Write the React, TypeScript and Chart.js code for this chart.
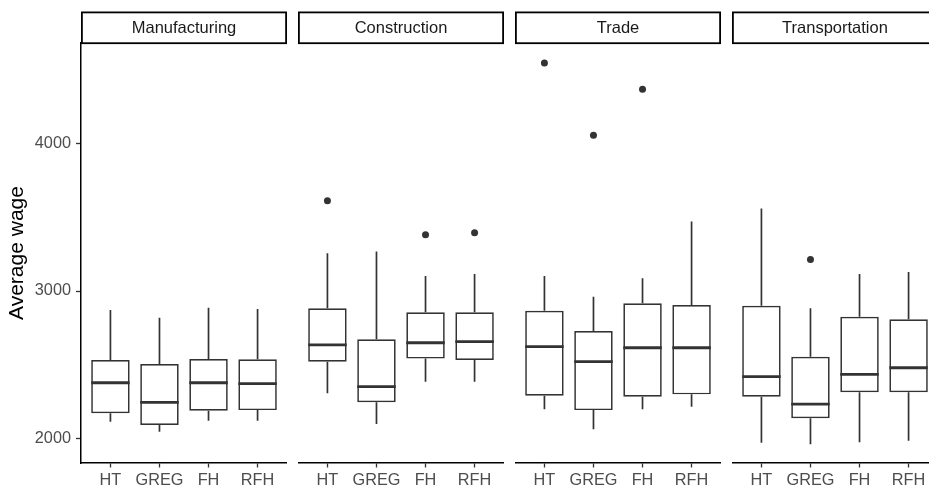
import React, { useEffect, useRef } from 'react';
import { Chart, registerables } from 'chart.js';

Chart.register(...registerables);

const FONT = "'Liberation Sans', Arial, Helvetica, sans-serif";

const sectors = ['Manufacturing', 'Construction', 'Trade', 'Transportation'];
const methods = ['HT', 'GREG', 'FH', 'RFH'];
const yTicks = [2000, 3000, 4000];

// per sector (row) and method (column)
const lowerWhisker = [
  [2111, 2043, 2118, 2118],
  [2304, 2095, 2383, 2383],
  [2195, 2059, 2195, 2213],
  [1968, 1957, 1971, 1982],
];
const lowerHinge = [
  [2168, 2088, 2186, 2190],
  [2519, 2243, 2540, 2531],
  [2288, 2190, 2281, 2297],
  [2281, 2134, 2311, 2311],
];
const medians = [
  [2376, 2243, 2376, 2370],
  [2633, 2349, 2648, 2655],
  [2621, 2519, 2614, 2614],
  [2417, 2231, 2433, 2478],
];
const upperHinge = [
  [2531, 2503, 2537, 2535],
  [2882, 2671, 2855, 2855],
  [2866, 2728, 2916, 2905],
  [2900, 2553, 2825, 2807],
];
const upperWhisker = [
  [2871, 2818, 2886, 2878],
  [3256, 3268, 3102, 3116],
  [3102, 2961, 3086, 3472],
  [3562, 2882, 3116, 3129],
];
// [method index, value]
const outliers: number[][][] = [
  [],
  [[0, 3614], [2, 3383], [3, 3397]],
  [[0, 4551], [1, 4059], [2, 4372]],
  [[1, 3215]],
];

const Y_MIN = 1830;
const Y_MAX = 4687;
const PANEL_LEFT = 81;
const PANEL_STEP = 217;
const PANEL_W = 206;
const TOP = 43;
const H = 487;
const X_AXIS_H = 24;
const LINE_W = 1.7;

function boxPlugin(i: number) {
  return {
    id: 'boxParts' + i,
    beforeDatasetsDraw(chart: any) {
      const { ctx, scales } = chart;
      const x = scales.x;
      const y = scales.y;
      ctx.save();
      ctx.strokeStyle = '#333333';
      ctx.lineWidth = LINE_W;
      methods.forEach((_, j) => {
        const px = x.getPixelForValue(j + 1);
        ctx.beginPath();
        ctx.moveTo(px, y.getPixelForValue(upperWhisker[i][j]));
        ctx.lineTo(px, y.getPixelForValue(upperHinge[i][j]));
        ctx.moveTo(px, y.getPixelForValue(lowerHinge[i][j]));
        ctx.lineTo(px, y.getPixelForValue(lowerWhisker[i][j]));
        ctx.stroke();
      });
      ctx.restore();
    },
    afterDatasetsDraw(chart: any) {
      const { ctx, scales } = chart;
      const y = scales.y;
      const meta = chart.getDatasetMeta(0);
      ctx.save();
      ctx.strokeStyle = '#333333';
      ctx.lineWidth = 2.8;
      methods.forEach((_, j) => {
        const el = meta.data[j];
        const py = y.getPixelForValue(medians[i][j]);
        ctx.beginPath();
        ctx.moveTo(el.x - el.width / 2, py);
        ctx.lineTo(el.x + el.width / 2, py);
        ctx.stroke();
      });
      ctx.restore();
    },
    afterDraw(chart: any) {
      const { ctx, chartArea } = chart;
      const left = chartArea.left;
      const w = chartArea.right - chartArea.left;
      ctx.save();
      ctx.fillStyle = '#ffffff';
      ctx.fillRect(left, 12, w, 31.5);
      ctx.strokeStyle = '#000000';
      ctx.lineWidth = 1.8;
      ctx.strokeRect(left + 0.9, 12.4, w - 1.8, 30.8);
      ctx.fillStyle = '#1a1a1a';
      ctx.font = `16.5px ${FONT}`;
      ctx.textAlign = 'center';
      ctx.textBaseline = 'middle';
      ctx.fillText(sectors[i], left + w / 2, 28.3);
      ctx.restore();
    },
  };
}

function Panel({ index }: { index: number }) {
  const ref = useRef<HTMLCanvasElement | null>(null);
  const first = index === 0;
  const left = first ? 0 : PANEL_LEFT + PANEL_STEP * index;
  const width = first ? PANEL_LEFT + PANEL_W : PANEL_W;

  useEffect(() => {
    if (!ref.current) return;
    const chart = new Chart(ref.current, {
      type: 'bar',
      data: {
        datasets: [
          {
            type: 'bar',
            data: methods.map((_, j) => ({ x: j + 1, y: [lowerHinge[index][j], upperHinge[index][j]] })) as any,
            backgroundColor: '#ffffff',
            borderColor: '#333333',
            borderWidth: LINE_W,
            borderSkipped: false,
            barThickness: 38.5,
            inflateAmount: 0,
          } as any,
          {
            type: 'scatter',
            data: outliers[index].map(([j, v]) => ({ x: j + 1, y: v })),
            pointRadius: 3.5,
            pointHoverRadius: 3.5,
            backgroundColor: '#333333',
            borderWidth: 0,
          } as any,
        ],
      },
      options: {
        responsive: false,
        animation: false,
        events: [],
        layout: { autoPadding: false, padding: { top: TOP, left: 0, right: 0, bottom: 0 } },
        plugins: { legend: { display: false }, tooltip: { enabled: false } },
        scales: {
          x: {
            type: 'linear',
            min: 0.4,
            max: 4.6,
            offset: false,
            afterBuildTicks: (s: any) => {
              s.ticks = methods.map((_, j) => ({ value: j + 1 }));
            },
            afterFit: (s: any) => {
              s.height = X_AXIS_H;
              s.paddingLeft = 0;
              s.paddingRight = 0;
            },
            ticks: {
              callback: (v: any) => methods[Number(v) - 1] ?? '',
              color: '#4d4d4d',
              font: { family: FONT, size: 16.3 },
              padding: 3.5,
              maxRotation: 0,
              autoSkip: false,
            },
            grid: {
              display: true,
              drawOnChartArea: false,
              drawTicks: true,
              tickLength: 4.5,
              tickColor: '#333333',
              tickWidth: 1.3,
              offset: false,
            },
            border: { display: true, color: '#000000', width: 1.5 },
          } as any,
          y: {
            type: 'linear',
            min: Y_MIN,
            max: Y_MAX,
            display: first,
            beginAtZero: false,
            afterBuildTicks: (s: any) => {
              s.ticks = yTicks.map((v) => ({ value: v }));
            },
            afterFit: (s: any) => {
              s.width = first ? PANEL_LEFT : 0;
              s.paddingTop = 0;
              s.paddingBottom = 0;
            },
            ticks: {
              color: '#4d4d4d',
              font: { family: FONT, size: 16.3 },
              padding: 5,
              callback: (v: any) => String(v),
            },
            grid: {
              display: true,
              drawOnChartArea: false,
              drawTicks: true,
              tickLength: 5,
              tickColor: '#333333',
              tickWidth: 1.3,
            },
            border: { display: true, color: '#000000', width: 1.5 },
            title: {
              display: true,
              text: 'Average wage',
              color: '#000000',
              font: { family: FONT, size: 21 },
              padding: { top: 5, bottom: 0 },
            },
          } as any,
        },
      },
      plugins: [boxPlugin(index)],
    });
    return () => chart.destroy();
  }, [index]);

  return (
    <canvas
      ref={ref}
      width={width}
      height={H}
      style={{ position: 'absolute', left, top: 0, width, height: H }}
    />
  );
}

export default function App() {
  return (
    <div
      style={{
        position: 'fixed',
        left: 0,
        top: 0,
        width: 929,
        height: H,
        overflow: 'hidden',
        background: '#ffffff',
      }}
    >
      {sectors.map((_, i) => (
        <Panel key={i} index={i} />
      ))}
    </div>
  );
}
